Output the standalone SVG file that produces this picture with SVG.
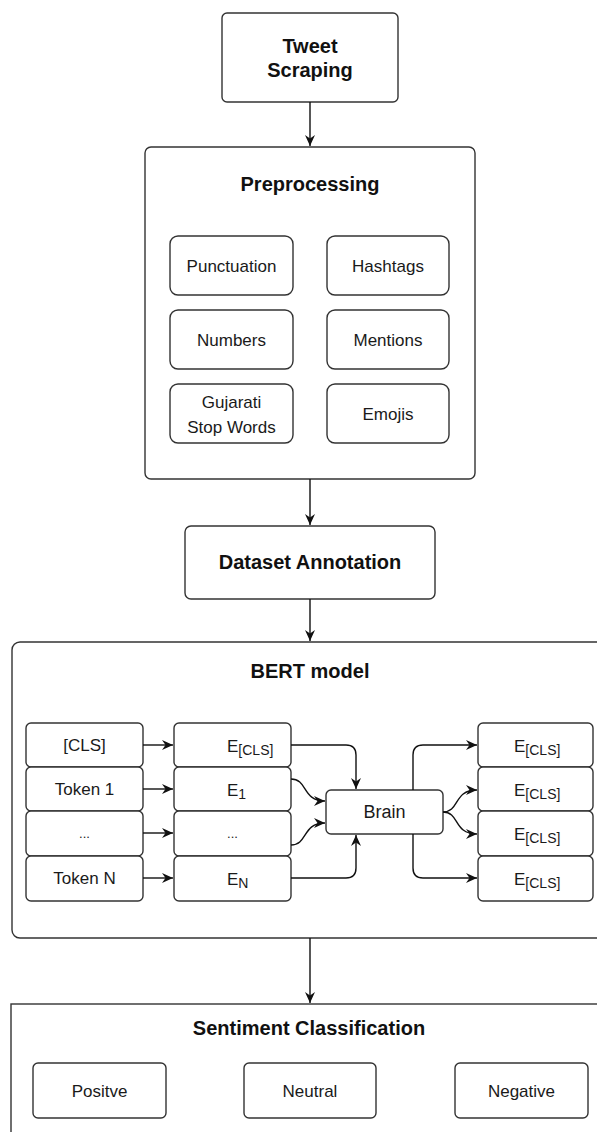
<svg xmlns="http://www.w3.org/2000/svg" width="597" height="1132" viewBox="0 0 597 1132">
<defs>
<marker id="arr" markerUnits="userSpaceOnUse" markerWidth="13" markerHeight="12" refX="11" refY="5" orient="auto">
<path d="M0,0 L11,5 L0,10 L3.5,5 z" fill="#111"/>
</marker>
<style>
.box{fill:#fff;stroke:#333;stroke-width:1.4}
.t{font-family:"Liberation Sans",Arial,sans-serif;font-size:17px;fill:#1a1a1a;text-anchor:middle}
.b{font-family:"Liberation Sans",Arial,sans-serif;font-size:20px;font-weight:bold;fill:#111;text-anchor:middle}
.s{font-family:"Liberation Sans",Arial,sans-serif;font-size:17px;fill:#1a1a1a}
.sub{font-size:14px}
.c{fill:none;stroke:#111;stroke-width:1.4;marker-end:url(#arr)}
</style>
</defs>
<rect width="597" height="1132" fill="#fff"/>

<g id="tweet-scraping">
<rect class="box" x="222" y="13" width="176" height="89" rx="5"/>
<text class="b" x="310" y="53">Tweet</text>
<text class="b" x="310" y="77">Scraping</text>
</g>

<g id="preprocessing">
<rect class="box" x="145" y="147" width="330" height="332" rx="6"/>
<text class="b" x="310" y="191">Preprocessing</text>
</g>
<g id="punctuation"><rect class="box" x="170" y="236" width="123" height="59" rx="8"/><text class="t" x="231.5" y="272">Punctuation</text></g>
<g id="hashtags"><rect class="box" x="327" y="236" width="122" height="59" rx="8"/><text class="t" x="388" y="272">Hashtags</text></g>
<g id="numbers"><rect class="box" x="170" y="310" width="123" height="59" rx="8"/><text class="t" x="231.5" y="346">Numbers</text></g>
<g id="mentions"><rect class="box" x="327" y="310" width="122" height="59" rx="8"/><text class="t" x="388" y="346">Mentions</text></g>
<g id="gujarati-stop-words"><rect class="box" x="170" y="384" width="123" height="59" rx="8"/><text class="t" x="231.5" y="408">Gujarati</text><text class="t" x="231.5" y="433">Stop Words</text></g>
<g id="emojis"><rect class="box" x="327" y="384" width="122" height="59" rx="8"/><text class="t" x="388" y="420">Emojis</text></g>

<g id="dataset-annotation">
<rect class="box" x="185" y="526" width="250" height="73" rx="6"/>
<text class="b" x="310" y="569">Dataset Annotation</text>
</g>

<g id="bert-model">
<rect class="box" x="12" y="642" width="596" height="296" rx="8"/>
<text class="b" x="310" y="678">BERT model</text>
</g>
<g id="tok-cls"><rect class="box" x="26" y="723" width="117" height="44" rx="5"/><text class="t" x="84.5" y="751">[CLS]</text></g>
<g id="tok-1"><rect class="box" x="26" y="767" width="117" height="44" rx="5"/><text class="t" x="84.5" y="795">Token 1</text></g>
<g id="tok-dots"><rect class="box" x="26" y="811" width="117" height="45" rx="5"/><text class="t" x="84.5" y="838" style="font-size:13px">...</text></g>
<g id="tok-n"><rect class="box" x="26" y="856" width="117" height="45" rx="5"/><text class="t" x="84.5" y="884">Token N</text></g>

<g id="emb-cls"><rect class="box" x="174" y="723" width="117" height="44" rx="5"/><text class="s" x="227" y="752">E<tspan class="sub" dy="3">[CLS]</tspan></text></g>
<g id="emb-1"><rect class="box" x="174" y="767" width="117" height="44" rx="5"/><text class="s" x="227" y="796">E<tspan class="sub" dy="3">1</tspan></text></g>
<g id="emb-dots"><rect class="box" x="174" y="811" width="117" height="45" rx="5"/><text class="t" x="232.5" y="838" style="font-size:13px">...</text></g>
<g id="emb-n"><rect class="box" x="174" y="856" width="117" height="45" rx="5"/><text class="s" x="227" y="885">E<tspan class="sub" dy="3">N</tspan></text></g>

<g id="brain"><rect class="box" x="326" y="790" width="117" height="44" rx="5"/><text class="t" x="384.5" y="818" style="font-size:18px">Brain</text></g>

<g id="out-1"><rect class="box" x="478" y="723" width="115" height="44" rx="5"/><text class="s" x="514" y="752">E<tspan class="sub" dy="3">[CLS]</tspan></text></g>
<g id="out-2"><rect class="box" x="478" y="767" width="115" height="44" rx="5"/><text class="s" x="514" y="796">E<tspan class="sub" dy="3">[CLS]</tspan></text></g>
<g id="out-3"><rect class="box" x="478" y="811" width="115" height="45" rx="5"/><text class="s" x="514" y="840">E<tspan class="sub" dy="3">[CLS]</tspan></text></g>
<g id="out-4"><rect class="box" x="478" y="856" width="115" height="45" rx="5"/><text class="s" x="514" y="885">E<tspan class="sub" dy="3">[CLS]</tspan></text></g>

<g id="sentiment-classification">
<rect class="box" x="11" y="1004" width="597" height="140"/>
<text class="b" x="309" y="1035">Sentiment Classification</text>
</g>
<g id="positive"><rect class="box" x="33" y="1063" width="133" height="55" rx="5"/><text class="t" x="99.5" y="1097">Positve</text></g>
<g id="neutral"><rect class="box" x="244" y="1063" width="132" height="55" rx="5"/><text class="t" x="310" y="1097">Neutral</text></g>
<g id="negative"><rect class="box" x="455" y="1063" width="133" height="55" rx="5"/><text class="t" x="521.5" y="1097">Negative</text></g>

<g id="connectors">
<path class="c" d="M310,102 V146"/>
<path class="c" d="M310,479 V525"/>
<path class="c" d="M310,599 V641"/>
<path class="c" d="M310,938 V1003"/>
<path class="c" d="M143,745 H173"/>
<path class="c" d="M143,789 H173"/>
<path class="c" d="M143,833 H173"/>
<path class="c" d="M143,878 H173"/>
<path class="c" d="M291,745 H346 Q356,745 356,755 V789"/>
<path class="c" d="M291,878 H346 Q356,878 356,868 V835"/>
<path class="c" d="M291,779 C308,779 302,801 325,801"/>
<path class="c" d="M291,845 C308,845 302,823 325,823"/>
<path class="c" d="M413,790 V755 Q413,745 423,745 H477"/>
<path class="c" d="M413,834 V868 Q413,878 423,878 H477"/>
<path class="c" d="M443,812 C460,812 453,790 477,790"/>
<path class="c" d="M443,812 C460,812 453,834 477,834"/>
</g>
</svg>
